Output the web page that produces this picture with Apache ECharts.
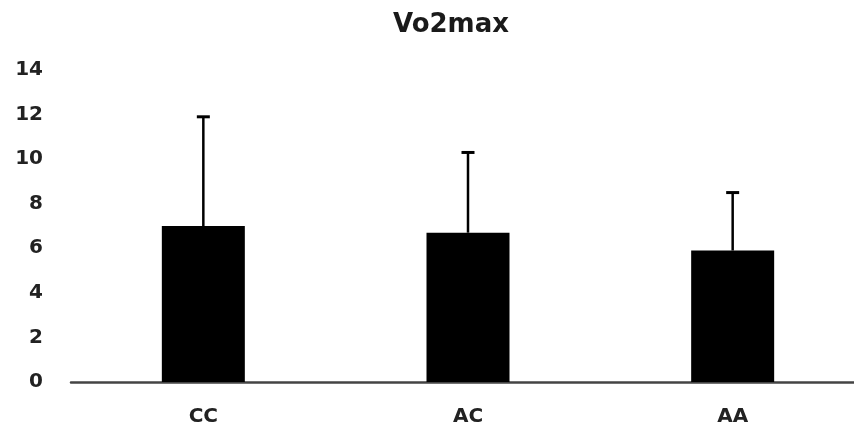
<!DOCTYPE html>
<html><head><meta charset="utf-8">
<script src="https://cdn.jsdelivr.net/npm/echarts@6/dist/echarts.min.js"></script>
<style>html,body{margin:0;padding:0;background:#fff}#c{width:854px;height:430px}</style>
</head><body><div id="c"></div>
<script>
const categories = ['CC', 'AC', 'AA'];
const means = [7.0, 6.7, 5.9];
const errorTops = [11.9, 10.3, 8.5];
const yTicks = [0, 2, 4, 6, 8, 10, 12, 14];

const chart = echarts.init(document.getElementById('c'));
const font = '"DejaVu Sans", sans-serif';
chart.setOption({
  animation: false,
  title: { text: 'Vo2max', left: 446, top: 7, textAlign: 'center',
    textStyle: { fontFamily: font, fontWeight: 'bold', fontSize: 26, color: '#1a1a1a' } },
  grid: { left: 71, top: 70, width: 794, height: 312, containLabel: false, outerBoundsMode: 'none' },
  xAxis: { type: 'category', data: categories,
    axisLine: { lineStyle: { color: '#444', width: 2.5 } },
    axisTick: { show: false },
    axisLabel: { fontFamily: font, fontWeight: 'bold', fontSize: 20, color: '#222', margin: 25 } },
  yAxis: { type: 'value', min: yTicks[0], max: yTicks[yTicks.length - 1], interval: 2,
    axisLine: { show: false }, axisTick: { show: false }, splitLine: { show: false },
    axisLabel: { fontFamily: font, fontWeight: 'bold', fontSize: 20, color: '#222', margin: 28 } },
  series: [
    { type: 'bar', data: means, barWidth: 83, itemStyle: { color: '#000' } },
    { type: 'custom', data: categories.map((c, i) => [i, means[i], errorTops[i]]),
      renderItem: function (params, api) {
        const base = api.coord([api.value(0), api.value(1)]);
        const top = api.coord([api.value(0), api.value(2)]);
        const half = 6.5;
        return { type: 'group', children: [
          { type: 'line', shape: { x1: base[0], y1: base[1], x2: top[0], y2: top[1] }, style: { stroke: '#000', lineWidth: 2.5 } },
          { type: 'line', shape: { x1: top[0] - half, y1: top[1], x2: top[0] + half, y2: top[1] }, style: { stroke: '#000', lineWidth: 3 } }
        ] };
      }, z: 3 }
  ]
});
</script></body></html>
